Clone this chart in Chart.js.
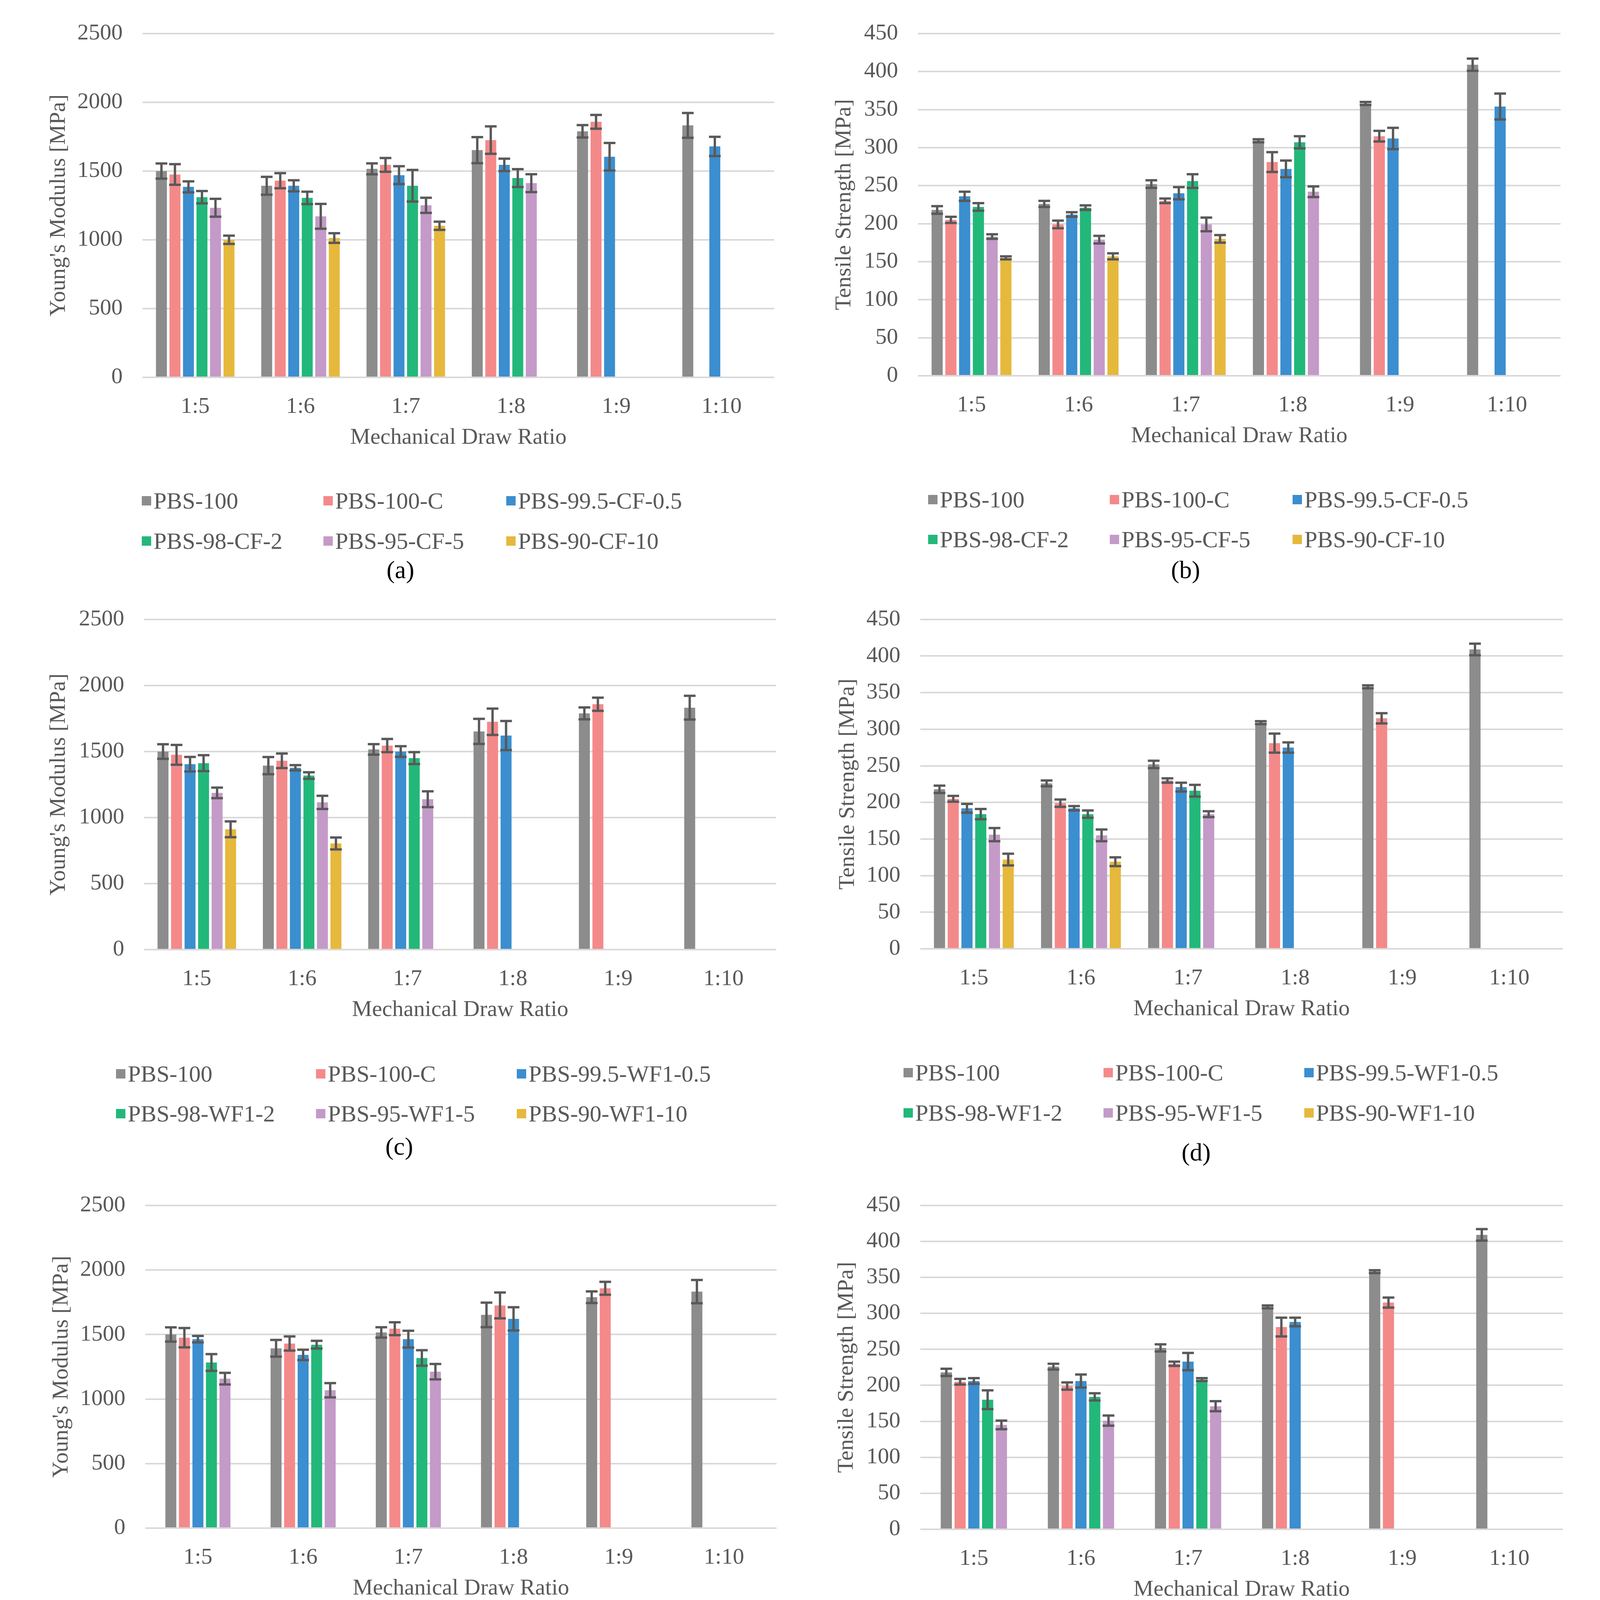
<!DOCTYPE html>
<html>
<head>
<meta charset="utf-8">
<script src="https://cdn.jsdelivr.net/npm/chart.js@4.4.1/dist/chart.umd.min.js"></script>
<style>
html, body { margin: 0; padding: 0; background: #fff; }
#page { position: relative; width: 4102px; height: 4522px; background: #fff; overflow: hidden;
        font-family: 'Liberation Serif', 'Times New Roman', serif; }
#page canvas { position: absolute; }
.lg { position: absolute; font-size: 60px; color: #595959; line-height: 1; white-space: nowrap; }
.lg i { position: absolute; left: 0; top: -12px; width: 24px; height: 24px; }
.lg span { position: absolute; left: 30px; top: 0; transform: translateY(-50%); }
.cap { position: absolute; font-size: 64px; color: #000; line-height: 1; transform: translate(-50%, -50%); }
.rule { position: absolute; left: 29px; width: 4063px; top: 4486px; height: 3px; background: #c8c8c8; }
</style>
</head>
<body>
<div id="page"></div>
<script>
// draw ratios on the x axis
const ratios = ['1:5', '1:6', '1:7', '1:8', '1:9', '1:10'];

// Young's modulus [MPa] (mean, error)
const ymPBS100     = [1500, 1393, 1516, 1652, 1789, 1832];
const ymPBS100Err  = [55, 65, 40, 95, 45, 90];
const ymPBS100C    = [1475, 1430, 1545, 1725, 1858, null];
const ymPBS100CErr = [75, 55, 50, 100, 50, null];
const ymCF05       = [1385, 1393, 1470, 1545, 1604, 1679];
const ymCF05Err    = [40, 40, 65, 45, 100, 70];
const ymCF2        = [1310, 1305, 1393, 1449, null, null];
const ymCF2Err     = [45, 45, 115, 65, null, null];
const ymCF5        = [1233, 1171, 1251, 1412, null, null];
const ymCF5Err     = [65, 90, 55, 65, null, null];
const ymCF10       = [1000, 1013, 1102, null, null, null];
const ymCF10Err    = [30, 35, 30, null, null, null];
const ymWF105      = [1404, 1377, 1500, 1621, null, null];
const ymWF105Err   = [55, 20, 40, 110, null, null];
const ymWF12       = [1412, 1318, 1450, null, null, null];
const ymWF12Err    = [60, 25, 45, null, null, null];
const ymWF15       = [1187, 1115, 1139, null, null, null];
const ymWF15Err    = [40, 50, 60, null, null, null];
const ymWF110      = [911, 804, null, null, null, null];
const ymWF110Err   = [60, 45, null, null, null, null];
const ymWF205      = [1464, 1342, 1464, 1621, null, null];
const ymWF205Err   = [25, 40, 65, 90, null, null];
const ymWF22       = [1283, 1421, 1318, null, null, null];
const ymWF22Err    = [65, 30, 60, null, null, null];
const ymWF25       = [1158, 1068, 1212, null, null, null];
const ymWF25Err    = [45, 55, 60, null, null, null];

// Tensile strength [MPa] (mean, error)
const tsPBS100     = [218, 226, 252, 309, 358, 409];
const tsPBS100Err  = [5, 4, 5, 2, 2, 8];
const tsPBS100C    = [205, 199, 230, 281, 315, null];
const tsPBS100CErr = [4, 5, 3, 13, 7, null];
const tsCF05       = [236, 212, 240, 272, 312, 354];
const tsCF05Err    = [6, 3, 8, 11, 14, 17];
const tsCF2        = [222, 221, 256, 307, null, null];
const tsCF2Err     = [5, 3, 9, 8, null, null];
const tsCF5        = [183, 179, 199, 242, null, null];
const tsCF5Err     = [3, 5, 9, 7, null, null];
const tsCF10       = [155, 157, 180, null, null, null];
const tsCF10Err    = [2, 4, 5, null, null, null];
const tsWF105      = [192, 192, 221, 275, null, null];
const tsWF105Err   = [6, 3, 6, 7, null, null];
const tsWF12       = [184, 184, 216, null, null, null];
const tsWF12Err    = [7, 5, 8, null, null, null];
const tsWF15       = [156, 155, 184, null, null, null];
const tsWF15Err    = [9, 8, 4, null, null, null];
const tsWF110      = [122, 119, null, null, null, null];
const tsWF110Err   = [8, 6, null, null, null, null];
const tsWF205      = [206, 206, 233, 288, null, null];
const tsWF205Err   = [4, 9, 12, 6, null, null];
const tsWF22       = [180, 184, 208, null, null, null];
const tsWF22Err    = [13, 5, 2, null, null, null];
const tsWF25       = [145, 151, 171, null, null, null];
const tsWF25Err    = [6, 7, 7, null, null, null];

const namesCF  = ['PBS-100', 'PBS-100-C', 'PBS-99.5-CF-0.5', 'PBS-98-CF-2', 'PBS-95-CF-5', 'PBS-90-CF-10'];
const namesWF1 = ['PBS-100', 'PBS-100-C', 'PBS-99.5-WF1-0.5', 'PBS-98-WF1-2', 'PBS-95-WF1-5', 'PBS-90-WF1-10'];
const namesWF2 = ['PBS-100', 'PBS-100-C', 'PBS-99.5-WF2-0.5', 'PBS-98-WF2-2', 'PBS-95-WF2-5'];

const ymTicks = [0, 500, 1000, 1500, 2000, 2500];
const tsTicks = [0, 50, 100, 150, 200, 250, 300, 350, 400, 450];

const colors = ['#8c8c8c', '#f4898a', '#3b8ecf', '#22b87a', '#c49ac8', '#e6b83c'];
const FONT = "'Liberation Serif', 'Times New Roman', serif";
const TXT = '#595959';

const panels = [
    { cap: '(a)', x: 0, y: 0, left: 365, right: 1982, top: 72, bottom: 966, yTitleX: 151,
      yTitle: "Young's Modulus [MPa]", ticks: ymTicks, names: namesCF,
      values: [ymPBS100, ymPBS100C, ymCF05, ymCF2, ymCF5, ymCF10],
      errors: [ymPBS100Err, ymPBS100CErr, ymCF05Err, ymCF2Err, ymCF5Err, ymCF10Err],
      legX: [363, 828, 1296], legY: [1282, 1385], capX: 1025, capY: 1459 },
    { cap: '(b)', x: 2050, y: 0, left: 2350, right: 3995, top: 69, bottom: 962, yTitleX: 2162,
      yTitle: 'Tensile Strength [MPa]', ticks: tsTicks, names: namesCF,
      values: [tsPBS100, tsPBS100C, tsCF05, tsCF2, tsCF5, tsCF10],
      errors: [tsPBS100Err, tsPBS100CErr, tsCF05Err, tsCF2Err, tsCF5Err, tsCF10Err],
      legX: [2376, 2841, 3309], legY: [1279, 1381], capX: 3035, capY: 1459 },
    { cap: '(c)', x: 0, y: 1500, left: 369, right: 1987, top: 1538, bottom: 2431, yTitleX: 151,
      yTitle: "Young's Modulus [MPa]", ticks: ymTicks, names: namesWF1,
      values: [ymPBS100, ymPBS100C, ymWF105, ymWF12, ymWF15, ymWF110],
      errors: [ymPBS100Err, ymPBS100CErr, ymWF105Err, ymWF12Err, ymWF15Err, ymWF110Err],
      legX: [297, 809, 1323], legY: [2749, 2851], capX: 1022, capY: 2935 },
    { cap: '(d)', x: 2050, y: 1500, left: 2356, right: 4001, top: 1537, bottom: 2429, yTitleX: 2171,
      yTitle: 'Tensile Strength [MPa]', ticks: tsTicks, names: namesWF1,
      values: [tsPBS100, tsPBS100C, tsWF105, tsWF12, tsWF15, tsWF110],
      errors: [tsPBS100Err, tsPBS100CErr, tsWF105Err, tsWF12Err, tsWF15Err, tsWF110Err],
      legX: [2313, 2825, 3339], legY: [2746, 2849], capX: 3062, capY: 2950 },
    { cap: '(e)', x: 0, y: 3000, left: 372, right: 1988, top: 3015, bottom: 3912, yTitleX: 158,
      yTitle: "Young's Modulus [MPa]", ticks: ymTicks, names: namesWF2,
      values: [ymPBS100, ymPBS100C, ymWF205, ymWF22, ymWF25],
      errors: [ymPBS100Err, ymPBS100CErr, ymWF205Err, ymWF22Err, ymWF25Err],
      legX: [301, 813, 1327], legY: [4232, 4334], capX: 1025, capY: 4421 },
    { cap: '(f)', x: 2050, y: 3000, left: 2356, right: 4001, top: 3017, bottom: 3915, yTitleX: 2168,
      yTitle: 'Tensile Strength [MPa]', ticks: tsTicks, names: namesWF2,
      values: [tsPBS100, tsPBS100C, tsWF205, tsWF22, tsWF25],
      errors: [tsPBS100Err, tsPBS100CErr, tsWF205Err, tsWF22Err, tsWF25Err],
      legX: [2313, 2825, 3339], legY: [4235, 4337], capX: 3051, capY: 4422 }
];

// error bars drawn on top of the bars
const errorBars = {
    id: 'errorBars',
    afterDatasetsDraw(chart) {
        const ctx = chart.ctx;
        const ys = chart.scales.y;
        ctx.save();
        ctx.strokeStyle = '#595959';
        ctx.lineWidth = 6;
        chart.data.datasets.forEach((ds, i) => {
            const meta = chart.getDatasetMeta(i);
            meta.data.forEach((bar, j) => {
                const v = ds.data[j];
                const e = ds.errors[j];
                if (v == null || e == null) return;
                const t = ys.getPixelForValue(v + e);
                const b = ys.getPixelForValue(v - e);
                ctx.beginPath();
                ctx.moveTo(bar.x, t);
                ctx.lineTo(bar.x, b);
                ctx.moveTo(bar.x - 15, t);
                ctx.lineTo(bar.x + 15, t);
                ctx.moveTo(bar.x - 15, b);
                ctx.lineTo(bar.x + 15, b);
                ctx.stroke();
            });
        });
        ctx.restore();
    }
};

const page = document.getElementById('page');

function drawPanel(p) {
    const W = p.x === 0 ? 2050 : 2052;
    const H = p.bottom + 155 + 35 - p.y;
    const canvas = document.createElement('canvas');
    canvas.width = W;
    canvas.height = H;
    canvas.style.left = p.x + 'px';
    canvas.style.top = p.y + 'px';
    canvas.style.width = W + 'px';
    canvas.style.height = H + 'px';
    page.appendChild(canvas);

    const step = p.ticks[1] - p.ticks[0];
    const catPct = p.names.length === 6 ? 0.77 : 0.643;

    new Chart(canvas, {
        type: 'bar',
        data: {
            labels: ratios,
            datasets: p.names.map((n, i) => ({
                label: n,
                data: p.values[i],
                errors: p.errors[i],
                backgroundColor: colors[i],
                borderWidth: 0,
                barPercentage: 0.81,
                categoryPercentage: catPct
            }))
        },
        options: {
            responsive: false,
            devicePixelRatio: 1,
            animation: false,
            layout: { padding: { left: 0, top: p.top - p.y, right: p.x + W - p.right, bottom: 0 } },
            plugins: { legend: { display: false }, tooltip: { enabled: false } },
            scales: {
                x: {
                    grid: { display: false },
                    border: { display: false },
                    ticks: { color: TXT, font: { family: FONT, size: 58 }, padding: 33, maxRotation: 0 },
                    title: { display: true, text: 'Mechanical Draw Ratio', color: TXT,
                             font: { family: FONT, size: 58 }, padding: 0 },
                    afterFit: s => { s.height = H - (p.bottom - p.y); }
                },
                y: {
                    min: p.ticks[0],
                    max: p.ticks[p.ticks.length - 1],
                    ticks: { stepSize: step, color: TXT, font: { family: FONT, size: 58 }, padding: 51,
                             callback: v => String(v) },
                    grid: { color: '#d9d9d9', lineWidth: 4, drawTicks: false },
                    border: { display: false },
                    title: { display: true, text: p.yTitle, color: TXT, font: { family: FONT, size: 58 },
                             padding: { top: p.yTitleX - p.x - 35, bottom: 0 } },
                    afterFit: s => { s.width = p.left - p.x; }
                }
            }
        },
        plugins: [errorBars]
    });

    // legend in a 3-column grid like the original
    p.names.forEach((n, i) => {
        const d = document.createElement('div');
        d.className = 'lg';
        d.style.left = p.legX[i % 3] + 'px';
        d.style.top = p.legY[Math.floor(i / 3)] + 'px';
        d.innerHTML = '<i style="background:' + colors[i] + '"></i><span>' + n + '</span>';
        page.appendChild(d);
    });

    const c = document.createElement('div');
    c.className = 'cap';
    c.style.left = p.capX + 'px';
    c.style.top = p.capY + 'px';
    c.textContent = p.cap;
    page.appendChild(c);
}

panels.forEach(drawPanel);

const rule = document.createElement('div');
rule.className = 'rule';
page.appendChild(rule);
</script>
</body>
</html>
